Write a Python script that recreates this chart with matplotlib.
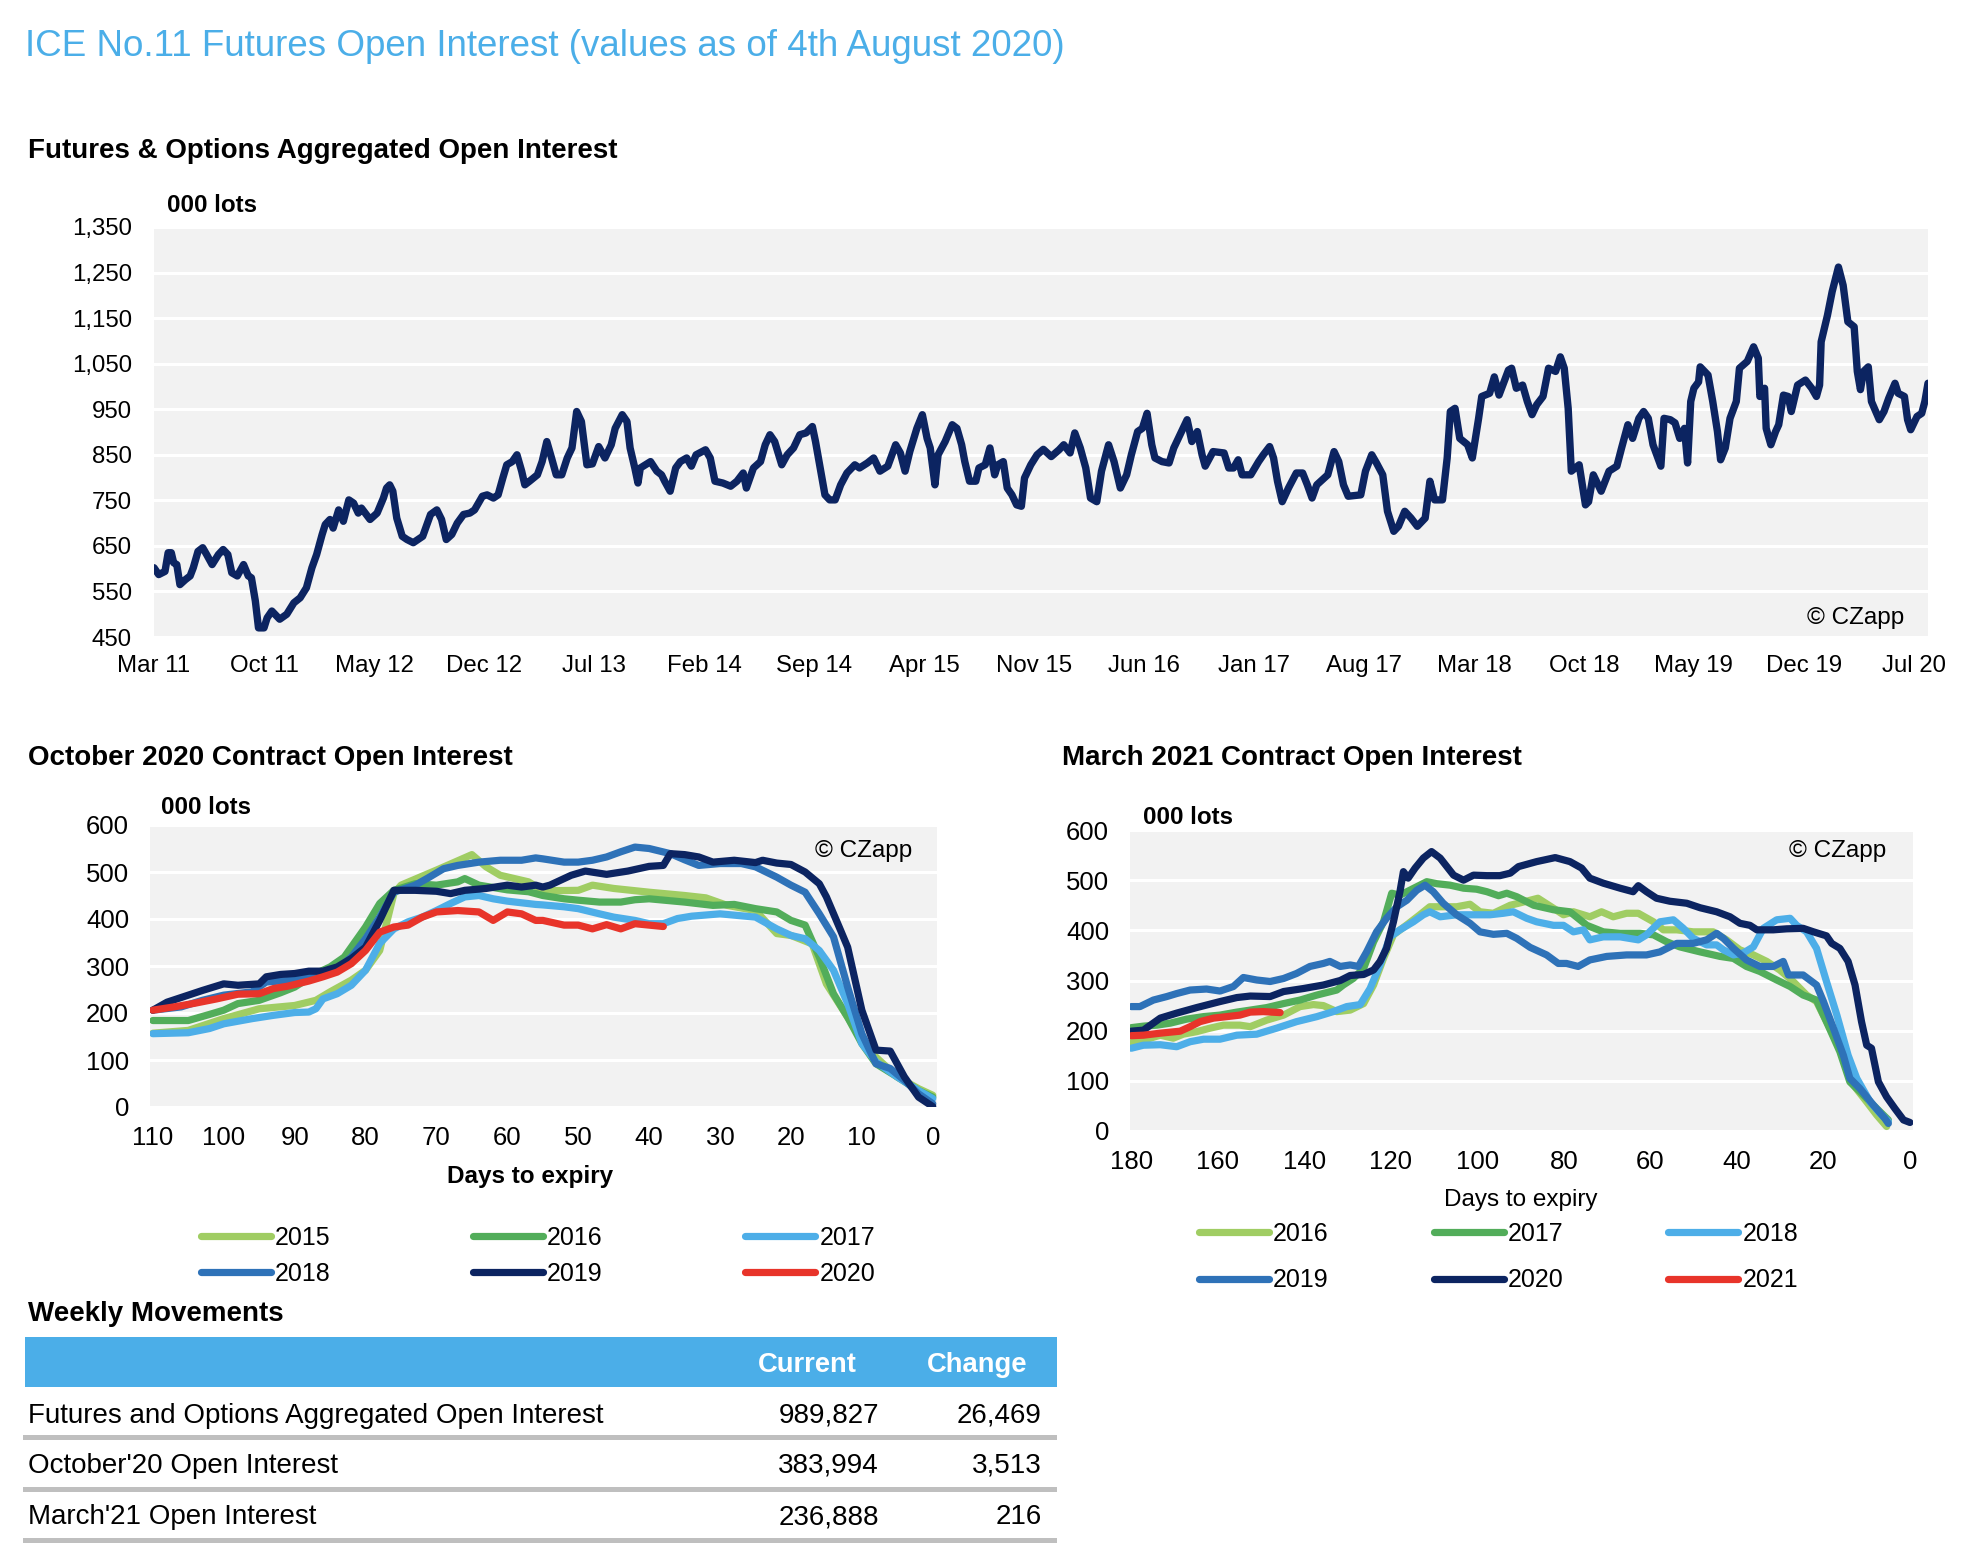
import matplotlib
matplotlib.use('Agg')
import matplotlib.pyplot as plt
from matplotlib.lines import Line2D
from matplotlib.patches import Rectangle
from matplotlib.ticker import StrMethodFormatter

plt.rcParams['font.family'] = ['Liberation Sans', 'DejaVu Sans']

W, H = 1968, 1552

# ---- data -----------------------------------------------------------------
# aggregated open interest, (months since Mar 2011, 000 lots)
agg_points = [
    (0.0, 602), (0.3, 587), (0.7, 594), (0.9, 635), (1.1, 635), (1.25, 613), (1.45, 609), (1.65, 565),
    (2.0, 576), (2.3, 584), (2.5, 602), (2.8, 638), (3.1, 646), (3.35, 631), (3.7, 609), (4.1, 631),
    (4.4, 642), (4.7, 631), (4.95, 591), (5.3, 584), (5.7, 609), (6.0, 584), (6.2, 580), (6.45, 529),
    (6.65, 470), (7.0, 470), (7.2, 492), (7.5, 507), (8.0, 489), (8.45, 500), (8.9, 525), (9.3, 536),
    (9.7, 558), (10.05, 602), (10.35, 631), (10.7, 675), (10.9, 697), (11.2, 708), (11.4, 689), (11.75, 729),
    (12.05, 704), (12.4, 751), (12.7, 744), (13.0, 722), (13.2, 733), (13.75, 708), (14.2, 722), (14.6, 755),
    (14.8, 777), (15.0, 784), (15.2, 770), (15.45, 711), (15.8, 671), (16.1, 664), (16.5, 657), (16.8, 664),
    (17.1, 671), (17.6, 719), (18.0, 729), (18.3, 708), (18.6, 664), (18.95, 675), (19.3, 700), (19.7, 719),
    (20.1, 722), (20.4, 729), (20.9, 759), (21.2, 762), (21.6, 755), (21.9, 762), (22.2, 799), (22.45, 828),
    (22.8, 835), (23.1, 850), (23.4, 814), (23.6, 784), (23.9, 792), (24.4, 806), (24.7, 835), (25.0, 879),
    (25.3, 843), (25.6, 806), (25.95, 806), (26.3, 843), (26.6, 865), (26.9, 945), (27.2, 923), (27.55, 828),
    (27.9, 830), (28.3, 868), (28.7, 843), (29.1, 872), (29.35, 908), (29.8, 938), (30.1, 923), (30.3, 865),
    (30.6, 821), (30.8, 788), (30.95, 821), (31.6, 835), (32.0, 814), (32.3, 806), (32.5, 792), (32.85, 770),
    (33.2, 821), (33.5, 835), (33.9, 843), (34.2, 825), (34.5, 850), (35.1, 861), (35.4, 843), (35.7, 792),
    (36.2, 788), (36.7, 781), (37.1, 792), (37.5, 810), (37.7, 777), (38.15, 821), (38.6, 835), (38.9, 872),
    (39.2, 894), (39.5, 879), (39.95, 828), (40.3, 850), (40.7, 865), (41.1, 894), (41.5, 898), (41.9, 912),
    (42.1, 879), (42.4, 821), (42.7, 762), (43.0, 751), (43.35, 751), (43.7, 784), (44.1, 810), (44.6, 828),
    (44.9, 821), (45.4, 832), (45.8, 843), (46.2, 814), (46.7, 825), (47.2, 872), (47.5, 854), (47.8, 814),
    (48.1, 857), (48.55, 908), (48.9, 938), (49.2, 886), (49.4, 865), (49.7, 784), (49.9, 850), (50.35, 879),
    (50.8, 916), (51.1, 908), (51.4, 872), (51.6, 835), (51.9, 792), (52.3, 792), (52.5, 821), (52.9, 828),
    (53.2, 865), (53.5, 806), (53.7, 828), (54.05, 835), (54.3, 777), (54.6, 762), (54.9, 740), (55.2, 737),
    (55.4, 799), (55.8, 828), (56.2, 850), (56.6, 862), (57.1, 846), (57.6, 861), (57.9, 872), (58.3, 854),
    (58.6, 898), (58.95, 865), (59.3, 821), (59.6, 755), (60.0, 747), (60.3, 814), (60.75, 872), (61.1, 835),
    (61.5, 777), (61.9, 806), (62.2, 850), (62.6, 901), (62.9, 908), (63.2, 941), (63.5, 872), (63.7, 843),
    (64.15, 835), (64.6, 832), (64.9, 865), (65.3, 894), (65.75, 927), (66.05, 879), (66.4, 901), (66.7, 850),
    (66.9, 825), (67.4, 857), (68.1, 854), (68.4, 821), (68.7, 821), (69.0, 839), (69.25, 806), (69.8, 806),
    (70.3, 835), (70.6, 850), (71.0, 868), (71.25, 843), (71.5, 792), (71.8, 747), (72.2, 777), (72.7, 810),
    (73.1, 810), (73.4, 784), (73.7, 755), (74.0, 784), (74.7, 806), (75.1, 857), (75.4, 835), (75.7, 784),
    (76.0, 759), (76.8, 762), (77.1, 814), (77.5, 850), (77.8, 832), (78.2, 806), (78.5, 726), (78.9, 682),
    (79.2, 693), (79.6, 726), (80.0, 711), (80.4, 693), (80.9, 711), (81.2, 792), (81.5, 751), (82.0, 751),
    (82.3, 843), (82.5, 945), (82.8, 952), (83.1, 886), (83.6, 872), (83.9, 843), (84.3, 930), (84.5, 978),
    (85.0, 985), (85.3, 1021), (85.6, 981), (86.2, 1036), (86.4, 1040), (86.7, 996), (87.1, 1003), (87.4, 967),
    (87.7, 938), (88.0, 960), (88.4, 978), (88.75, 1040), (89.2, 1033), (89.5, 1065), (89.75, 1040), (90.0, 952),
    (90.2, 814), (90.7, 828), (91.1, 740), (91.3, 747), (91.6, 806), (92.1, 770), (92.6, 814), (93.1, 825),
    (93.4, 865), (93.8, 916), (94.1, 886), (94.5, 930), (94.8, 945), (95.1, 930), (95.4, 872), (95.9, 825),
    (96.1, 930), (96.5, 927), (96.8, 920), (97.1, 886), (97.4, 908), (97.6, 832), (97.8, 967), (98.0, 996),
    (98.3, 1010), (98.4, 1043), (98.9, 1025), (99.2, 967), (99.5, 901), (99.7, 839), (100.0, 865), (100.3, 930),
    (100.7, 967), (100.9, 1040), (101.4, 1055), (101.8, 1087), (102.1, 1062), (102.2, 978), (102.5, 996), (102.6, 908),
    (102.9, 872), (103.2, 901), (103.4, 916), (103.7, 981), (104.0, 978), (104.2, 945), (104.6, 1003), (105.1, 1014),
    (105.5, 996), (105.8, 978), (106.0, 1003), (106.1, 1098), (106.5, 1156), (106.8, 1208), (107.2, 1262), (107.5, 1222),
    (107.8, 1142), (108.2, 1131), (108.4, 1033), (108.6, 993), (108.8, 1033), (109.1, 1043), (109.3, 967), (109.8, 927),
    (110.1, 945), (110.4, 974), (110.8, 1007), (111.0, 985), (111.4, 978), (111.6, 927), (111.8, 905), (112.2, 934),
    (112.5, 941), (112.7, 967), (112.9, 1007),
]
agg_ticks = ['Mar 11', 'Oct 11', 'May 12', 'Dec 12', 'Jul 13', 'Feb 14', 'Sep 14', 'Apr 15', 'Nov 15',
             'Jun 16', 'Jan 17', 'Aug 17', 'Mar 18', 'Oct 18', 'May 19', 'Dec 19', 'Jul 20']

# October contract, (days to expiry, 000 lots)
oct_2015 = [(110, 157), (105, 163), (100, 188), (95, 209), (90, 216), (87, 227), (85, 245), (82, 270), (80, 291),
            (78, 333), (76, 454), (75, 472), (70, 504), (65, 537), (63, 511), (61, 493), (57, 479), (55, 460),
            (50, 461), (48, 472), (45, 465), (40, 457), (35, 450), (32, 445), (29, 429), (25, 418), (22, 369),
            (20, 365), (17, 347), (15, 262), (12, 191), (10, 142), (8, 106), (5, 64), (2, 39), (0, 25)]
oct_2016 = [(110, 184), (105, 184), (102, 197), (100, 206), (98, 220), (95, 227), (92, 243), (90, 255), (87, 284),
            (85, 298), (83, 319), (80, 383), (78, 433), (76, 461), (73, 475), (70, 472), (67, 479), (66, 486),
            (64, 472), (60, 462), (57, 458), (55, 450), (52, 443), (50, 440), (47, 436), (44, 436), (42, 441),
            (40, 443), (35, 436), (31, 429), (28, 431), (25, 422), (22, 415), (20, 397), (18, 387), (16, 319),
            (14, 241), (12, 191), (10, 135), (8, 92), (5, 64), (2, 35), (0, 21)]
oct_2017 = [(110, 156), (105, 158), (102, 167), (100, 177), (96, 188), (93, 195), (90, 201), (88, 202), (87, 209),
            (86, 230), (84, 241), (82, 259), (80, 291), (78, 348), (76, 379), (74, 394), (72, 404), (70, 418),
            (68, 433), (66, 447), (64, 450), (62, 443), (60, 438), (56, 431), (55, 430), (52, 426), (50, 422),
            (47, 411), (45, 404), (42, 397), (40, 390), (38, 390), (36, 401), (34, 406), (30, 411), (25, 404),
            (22, 379), (20, 365), (18, 358), (16, 333), (14, 291), (12, 220), (10, 135), (8, 96), (5, 64),
            (2, 35), (0, 18)]
oct_2018 = [(110, 206), (106, 213), (103, 227), (100, 238), (96, 245), (94, 266), (90, 270), (86, 284), (84, 294),
            (82, 319), (80, 358), (78, 404), (76, 457), (73, 472), (71, 489), (69, 507), (67, 514), (64, 521),
            (61, 525), (58, 525), (56, 530), (55, 528), (52, 521), (50, 521), (48, 525), (46, 532), (44, 543),
            (42, 553), (40, 550), (37, 539), (35, 526), (33, 514), (30, 518), (27, 518), (25, 511), (22, 489),
            (20, 472), (18, 457), (16, 411), (14, 362), (12, 255), (10, 156), (8, 92), (6, 82), (4, 57), (2, 28),
            (0, 7)]
oct_2019 = [(110, 206), (108, 223), (105, 238), (103, 248), (100, 262), (98, 259), (95, 262), (94, 277), (92, 282),
            (90, 284), (88, 289), (86, 289), (84, 298), (82, 316), (80, 340), (78, 397), (76, 461), (73, 461),
            (70, 459), (68, 454), (66, 461), (63, 465), (60, 472), (58, 468), (56, 472), (55, 468), (54, 472),
            (51, 493), (49, 502), (46, 495), (43, 502), (40, 512), (38, 514), (37, 539), (35, 537), (33, 532),
            (31, 521), (28, 525), (25, 520), (24, 525), (22, 519), (20, 516), (18, 500), (16, 475), (15, 447),
            (13, 376), (12, 340), (10, 206), (8, 121), (6, 119), (4, 64), (2, 21), (0, 1)]
oct_2020 = [(110, 206), (107, 213), (104, 221), (101, 230), (98, 240), (95, 241), (93, 252), (91, 257), (88, 268),
            (86, 277), (84, 287), (82, 305), (80, 333), (78, 372), (76, 383), (74, 387), (72, 404), (70, 415),
            (67, 418), (64, 415), (62, 397), (60, 415), (58, 411), (56, 397), (55, 397), (52, 387), (50, 387),
            (48, 379), (46, 388), (44, 379), (42, 390), (40, 387), (38, 384)]

# March contract, (days to expiry, 000 lots)
mar_2016 = [(180, 178), (176.4, 183), (173.3, 191), (170.3, 185), (168, 193), (164.9, 198), (161.8, 205),
            (158.7, 211), (154.9, 211), (152.5, 208), (148.7, 221), (144.8, 231), (141, 248), (137.9, 252),
            (135.6, 250), (132.5, 238), (129.4, 241), (126.3, 254), (124, 291), (121.7, 344), (119.4, 391),
            (116.3, 411), (113.3, 431), (111, 447), (107.9, 447), (104.8, 447), (101.7, 452), (99.4, 437),
            (96.3, 434), (92.4, 450), (90, 455), (86, 464), (82.4, 444), (80.1, 431), (77.8, 437), (74, 427),
            (71.3, 437), (68.6, 427), (65.5, 434), (62.8, 434), (59.3, 417), (57, 401), (53.9, 401), (50.1, 397),
            (45.5, 397), (42.4, 381), (39.3, 361), (36.2, 351), (33.1, 338), (30.1, 321), (27, 298), (23.9, 271),
            (21.6, 258), (19.3, 218), (16.2, 165), (13.1, 92), (10, 58), (7.7, 32), (5.4, 9)]
mar_2017 = [(180, 206), (177.2, 209), (174.1, 211), (171, 215), (167.2, 223), (163.3, 228), (159.5, 231),
            (155.6, 237), (152.5, 241), (148.7, 246), (144.8, 254), (141, 261), (137.1, 271), (132.5, 281),
            (131, 291), (128.7, 304), (126.3, 324), (124, 377), (121.7, 417), (119.8, 474), (117.9, 470),
            (115.6, 480), (113.3, 490), (111.7, 497), (109.4, 493), (106.3, 490), (103.2, 484), (100.2, 482),
            (97.8, 477), (95.1, 469), (93.2, 474), (90.9, 467), (87, 450), (82.4, 441), (78.6, 437), (74.7, 410),
            (70.9, 397), (67, 394), (62.4, 394), (59.3, 391), (56.2, 377), (53.2, 367), (48.5, 357), (43.9, 348),
            (40.8, 344), (37.8, 328), (34.7, 318), (30.8, 301), (27.7, 288), (24.7, 271), (21.6, 261), (19.3, 218),
            (16.2, 158), (13.9, 98), (10.8, 72), (7.7, 45), (5, 22)]
mar_2018 = [(180, 165), (177.2, 171), (173.3, 172), (169.5, 168), (166.4, 178), (163.3, 183), (159.5, 183),
            (155.6, 191), (151, 193), (146.4, 205), (141.8, 218), (137.1, 228), (133.3, 238), (130.2, 248),
            (127.1, 252), (124.8, 284), (122.5, 331), (120.2, 387), (117.9, 401), (114.8, 417), (112.5, 431),
            (111, 437), (108.6, 427), (104.8, 431), (100.9, 431), (97.1, 431), (94, 434), (91.7, 437), (88.6, 424),
            (86.3, 417), (82.4, 410), (80.1, 410), (77.8, 397), (75.5, 401), (74, 381), (70.9, 387), (67, 387),
            (62.8, 381), (60.9, 391), (57.8, 417), (54.7, 421), (52.4, 404), (50.1, 384), (47, 371), (44.7, 371),
            (43.1, 361), (40.8, 351), (38.5, 355), (36.2, 367), (33.9, 404), (30.8, 421), (27.7, 424), (26.2, 410),
            (23.9, 397), (21.6, 364), (19.3, 298), (16.9, 231), (14.3, 151), (12.3, 105), (9.2, 58), (6.9, 35),
            (5, 19)]
mar_2019 = [(180, 248), (178, 248), (174.9, 261), (171.8, 268), (169.5, 274), (166.4, 281), (162.6, 283),
            (159.5, 279), (156.4, 288), (154.1, 306), (151, 301), (147.9, 298), (144.8, 304), (141.8, 314),
            (138.7, 328), (135.6, 334), (134.1, 338), (131.7, 328), (129.4, 331), (127.5, 328), (125.6, 357),
            (123.3, 397), (121, 424), (118.6, 447), (116.3, 460), (114, 480), (112.1, 490), (110.2, 477),
            (107.9, 454), (104.8, 431), (101.7, 414), (99.4, 397), (96.3, 392), (93.2, 394), (90.9, 384),
            (87.8, 366), (84, 351), (81.3, 334), (79.4, 334), (76.7, 328), (74, 341), (70.1, 348), (65.5, 351),
            (60.9, 351), (57.8, 357), (55.5, 367), (53.9, 374), (50.1, 374), (47, 381), (44.7, 394), (43.1, 384),
            (40.8, 364), (37.8, 341), (34.7, 328), (31.6, 328), (29.3, 338), (28.1, 311), (24.7, 311), (21.6, 291),
            (20, 258), (17.7, 205), (15.4, 151), (13.9, 105), (11.6, 85), (8.5, 52), (5.8, 25), (5, 15)]
mar_2020 = [(180, 199), (177.2, 201), (173.3, 225), (169.5, 235), (164.9, 246), (159.5, 258), (155.6, 266),
            (152.5, 269), (147.9, 268), (144.8, 278), (140.2, 284), (135.6, 291), (131.7, 300), (129.4, 310),
            (126.3, 312), (124, 321), (122.5, 338), (121, 364), (119.4, 417), (117.9, 477), (117.1, 517),
            (116, 504), (114.4, 524), (112.5, 544), (110.6, 557), (108.6, 544), (105.5, 510), (103.2, 500),
            (100.9, 510), (97.8, 509), (94.8, 509), (92.4, 514), (90.5, 527), (86.3, 537), (82, 545), (78.6, 537),
            (75.9, 524), (74, 504), (70.9, 494), (67, 484), (64, 477), (62.8, 489), (60.9, 477), (58.6, 464),
            (55.5, 458), (51.6, 454), (48.5, 445), (44.7, 437), (41.6, 427), (39.3, 414), (37, 410), (35.4, 401),
            (31.6, 401), (28.5, 403), (24.7, 404), (22.3, 397), (19.3, 389), (18.1, 374), (16.2, 364), (14.3, 338),
            (12.7, 291), (11.2, 218), (10, 171), (8.9, 165), (7.3, 98), (5.4, 68), (3.5, 45), (1.5, 22), (0, 17)]
mar_2021 = [(180, 190), (177.2, 191), (173.3, 195), (168.7, 199), (166.4, 208), (164.1, 218), (161, 225),
            (157.9, 228), (154.9, 231), (152.5, 237), (149.5, 238), (145.6, 236)]

oct_series = {'2015': oct_2015, '2016': oct_2016, '2017': oct_2017,
              '2018': oct_2018, '2019': oct_2019, '2020': oct_2020}
mar_series = {'2016': mar_2016, '2017': mar_2017, '2018': mar_2018,
              '2019': mar_2019, '2020': mar_2020, '2021': mar_2021}
oct_colors = ['#a0cd63', '#52ad5a', '#4daee8', '#2e72b8', '#0c2461', '#e8342a']
mar_colors = oct_colors

table_rows = ['Futures and Options Aggregated Open Interest', "October'20 Open Interest", "March'21 Open Interest"]
table_current = ['989,827', '383,994', '236,888']
table_change = ['26,469', '3,513', '216']

NAVY = '#0c2461'
TITLE_BLUE = '#4baee8'
PLOT_BG = '#f2f2f2'
HEAD = 20     # bold section headings
LOTS = 17.4


def fx(x):
    return x / W


def fy(y):
    return 1 - y / H


def style_axes(ax, tick_size, ypad, xpad):
    ax.set_facecolor(PLOT_BG)
    for s in ax.spines.values():
        s.set_visible(False)
    ax.grid(True, axis='y', color='white', linewidth=2.2)
    ax.set_axisbelow(True)
    ax.tick_params(length=0, labelsize=tick_size)
    ax.tick_params(axis='y', pad=ypad)
    ax.tick_params(axis='x', pad=xpad)


def add_axes_px(fig, left, top, right, bottom):
    return fig.add_axes([fx(left), fy(bottom), (right - left) / W, (bottom - top) / H])


fig = plt.figure(figsize=(W / 100, H / 100), dpi=100)

fig.text(fx(25), fy(47), 'ICE No.11 Futures Open Interest (values as of 4th August 2020)',
         color=TITLE_BLUE, fontsize=26.5, va='center', ha='left')

# ---- aggregated open interest ----------------------------------------------
fig.text(fx(28), fy(151), 'Futures & Options Aggregated Open Interest', fontsize=HEAD,
         fontweight='bold', va='center')
ax = add_axes_px(fig, 154, 227, 1928, 637)
style_axes(ax, 17.3, 16, 13)
m, v = zip(*agg_points)
ax.plot(m, v, color=NAVY, linewidth=5.3, solid_joinstyle='round', solid_capstyle='round')
ax.set_xlim(0, 112.9)
ax.set_ylim(450, 1350)
ax.set_yticks(range(450, 1351, 100))
ax.yaxis.set_major_formatter(StrMethodFormatter('{x:,.0f}'))
ax.set_xticks(range(0, 113, 7))
ax.set_xticklabels(agg_ticks)
fig.text(fx(167), fy(205), '000 lots', fontsize=LOTS, fontweight='bold', va='center')
fig.text(fx(1904), fy(618), '\u00a9 CZapp', fontsize=17.5, ha='right', va='center')


def contract_chart(box, series, colors, xlim, xticks, title, title_xy, lots_xy, czapp_xy,
                   xlabel, xlabel_xy, xlabel_bold, leg_xy, leg_ls, leg_cs):
    ax = add_axes_px(fig, *box)
    style_axes(ax, 18.5, 15, 14)
    handles = []
    for (name, pts), c in zip(series.items(), colors):
        d, val = zip(*pts)
        ln, = ax.plot(d, val, color=c, linewidth=5.2, label=name,
                      solid_joinstyle='round', solid_capstyle='round')
        handles.append(ln)
    ax.set_xlim(*xlim)
    ax.set_ylim(0, 600)
    ax.set_yticks(range(0, 601, 100))
    ax.set_xticks(xticks)
    fig.text(fx(title_xy[0]), fy(title_xy[1]), title, fontsize=HEAD, fontweight='bold', va='center')
    fig.text(fx(lots_xy[0]), fy(lots_xy[1]), '000 lots', fontsize=LOTS, fontweight='bold', va='center')
    fig.text(fx(czapp_xy[0]), fy(czapp_xy[1]), '\u00a9 CZapp', fontsize=17.5,
             ha='right', va='center')
    fig.text(fx(xlabel_xy[0]), fy(xlabel_xy[1]), xlabel, fontsize=17.5,
             fontweight='bold' if xlabel_bold else 'normal', ha='center', va='center')
    order = [0, 3, 1, 4, 2, 5]
    fig.legend([handles[i] for i in order], [handles[i].get_label() for i in order],
               loc='center left', bbox_to_anchor=(fx(leg_xy[0]), fy(leg_xy[1])), ncol=3,
               frameon=False, fontsize=18, handlelength=2.8, handletextpad=0.16,
               columnspacing=leg_cs, labelspacing=leg_ls, borderpad=0, borderaxespad=0)
    return ax


contract_chart((150, 825, 937, 1107), oct_series, oct_colors, (110.4, -0.6), range(0, 111, 10),
               'October 2020 Contract Open Interest', (28, 758), (161, 807), (912, 851),
               'Days to expiry', (530, 1177), True, (201, 1256), 0.47, 5.7)
contract_chart((1130, 830, 1913, 1131), mar_series, mar_colors, (180.3, -0.7), range(0, 181, 20),
               'March 2021 Contract Open Interest', (1062, 758), (1143, 817), (1886, 851),
               'Days to expiry', (1521, 1200), False, (1199, 1257), 0.9, 4.2)

# ---- weekly movements table -----------------------------------------------
fig.text(fx(28), fy(1314), 'Weekly Movements', fontsize=HEAD, fontweight='bold', va='center')
fig.add_artist(Rectangle((fx(25), fy(1387)), (1057 - 25) / W, 50 / H, transform=fig.transFigure,
                         facecolor=TITLE_BLUE, edgecolor='none'))
fig.text(fx(857), fy(1365), 'Current', fontsize=19.7, fontweight='bold', color='white', ha='right', va='center')
fig.text(fx(1027), fy(1365), 'Change', fontsize=19.7, fontweight='bold', color='white', ha='right', va='center')
row_y = [1416, 1466, 1517]
line_y = [1437, 1489, 1540]
for label, cur, chg, ry, ly in zip(table_rows, table_current, table_change, row_y, line_y):
    fig.text(fx(28), fy(ry), label, fontsize=20, va='center')
    fig.text(fx(879), fy(ry), cur, fontsize=20, ha='right', va='center')
    fig.text(fx(1042), fy(ry), chg, fontsize=20, ha='right', va='center')
    fig.add_artist(Line2D([fx(25), fx(1054)], [fy(ly), fy(ly)], transform=fig.transFigure,
                          color='#bfbfbf', linewidth=3.6))

fig.savefig('out.png', dpi=100, facecolor='white')
